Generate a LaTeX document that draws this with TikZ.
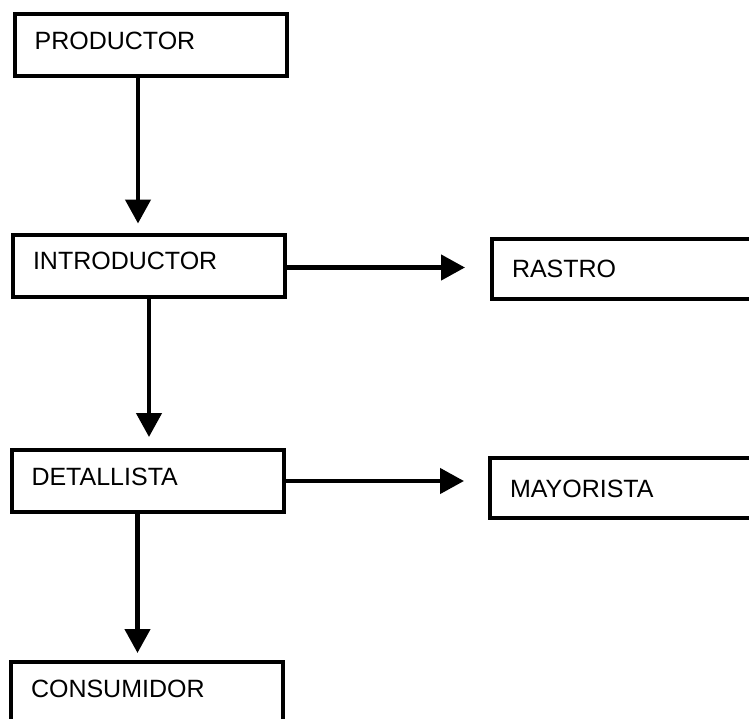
\documentclass[tikz,border=0pt]{standalone}
\usepackage{fontspec}
\setmainfont{Liberation Sans}
\usetikzlibrary{arrows.meta}
\tikzset{flow/.style = {line width = 4.5pt, -{Triangle[length = 24pt, width = 25pt]}}}
\tikzset{stage/.style = {draw, line width = 4pt, minimum width = 272pt, minimum height = 62pt,
                         inner xsep = 20pt, text width = 232pt, align = left,
                         text height = 18pt, text depth = 10pt,
                         font = \fontsize{25}{30}\selectfont}}
\tikzset{outlet/.style = {stage, minimum width = 300pt, minimum height = 60pt,
                          text width = 260pt, text depth = 0pt}}

\begin{document}
\begin{tikzpicture}[x = 1pt, y = -1pt]
    \clip (0, 0) rectangle (749, 718);
    \node [stage] (prod) at (150.6, 45.3) {PRODUCTOR};
    \node [stage] (intro) at (149, 265.5) {INTRODUCTOR};
    \node [stage] (detall) at (147.5, 481) {DETALLISTA};
    \node [stage] (cons) at (147, 693) {CONSUMIDOR};
    \node [outlet] (rastro) at (642, 268.5) {RASTRO};
    \node [outlet] (mayor) at (640, 488) {MAYORISTA};
    % vertical chain
    \draw [flow, shorten > = 9pt] ([xshift = -12.6pt]prod.south) -- ([xshift = -12.6pt]prod.south |- intro.north);
    \draw [flow, shorten > = 11pt] (intro.south) -- (intro.south |- detall.north);
    \draw [flow, shorten > = 7pt] ([xshift = -10pt]detall.south) -- ([xshift = -10pt]detall.south |- cons.north);
    % side branches
    \draw [flow, shorten > = 25pt] ([yshift = -2pt]intro.east) -- ([yshift = -2pt]intro.east -| rastro.west);
    \draw [flow, shorten > = 24pt] (detall.east) -- (detall.east -| mayor.west);
\end{tikzpicture}
\end{document}
